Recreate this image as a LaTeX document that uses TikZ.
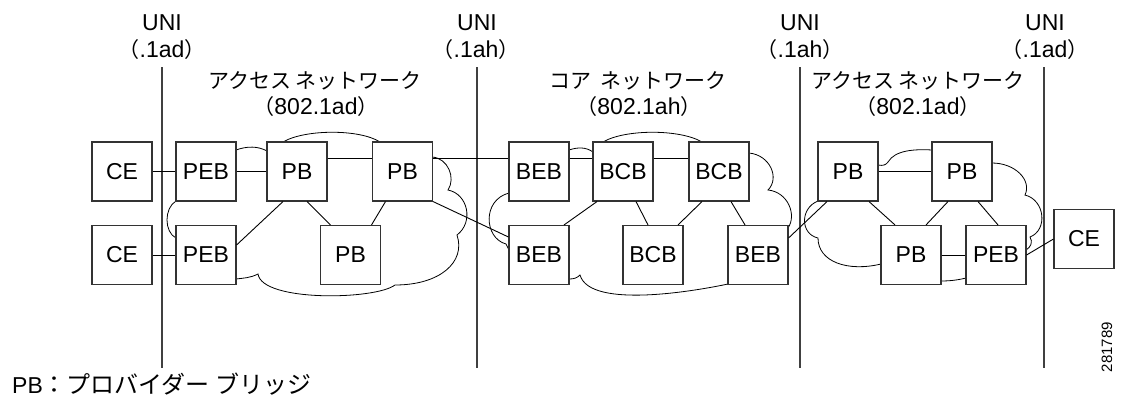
\documentclass[tikz,border=0pt]{standalone}
\usepackage{fontspec}
\setmainfont{Liberation Sans}
\newfontfamily\jp{Noto Sans CJK JP}
\newcommand{\jpt}{\jp\fontsize{21}{25}\selectfont}
\newcommand{\jpf}{\jp\fontsize{24}{28}\selectfont}
\begin{document}
\begin{tikzpicture}[x=1pt,y=-1pt,
  box/.style={draw=black!80, line width=1.1pt, fill=white, minimum width=60pt, minimum height=59pt, inner sep=0pt, font=\fontsize{23}{27}\selectfont},
  link/.style={line width=0.9pt},
  cloudline/.style={line width=0.8pt},
  uni/.style={draw=black!75, line width=1.1pt},
  lbl/.style={font=\fontsize{23}{27}\selectfont, inner sep=0pt, anchor=base},
]
\useasboundingbox (0,0) rectangle (1121,397);

% clouds
\draw[cloudline] (236,150) .. controls (247,146) and (258,146) .. (267,151)
 -- (283,142) .. controls (305,129) and (360,129) .. (380,142)
 -- (432,157) .. controls (448,158) and (456,178) .. (448,190)
 .. controls (468,194) and (474,222) .. (457,235)
 .. controls (466,262) and (440,285) .. (395,285)
 .. controls (375,300) and (262,302) .. (258,274)
 .. controls (250,278) and (244,278) .. (236,279)
 -- (176,238) .. controls (164,232) and (164,208) .. (176,201)
 -- cycle;
\draw[cloudline] (569,150) .. controls (578,147) and (586,147) .. (593,152)
 -- (603,142) .. controls (625,129) and (680,129) .. (702,142)
 -- (749,153) .. controls (770,155) and (780,178) .. (768,190)
 .. controls (788,192) and (797,215) .. (788,228)
 -- (728,284) .. controls (700,290) and (590,310) .. (580,275)
 .. controls (577,278) and (574,279) .. (569,279)
 -- (509,250) -- (506,244) .. controls (484,238) and (482,200) .. (509,193)
 -- cycle;
\draw[cloudline] (878,165) .. controls (883,166) and (886,165) .. (888,162)
 .. controls (895,150) and (915,149) .. (932,150)
 -- (992,163) .. controls (1015,163) and (1032,180) .. (1025,195)
 .. controls (1045,200) and (1048,230) .. (1030,237)
 .. controls (1033,242) and (1031,247) .. (1026,250)
 -- (966,278) .. controls (958,280) and (950,281) .. (941,281)
 -- (881,264) .. controls (848,272) and (818,262) .. (818,238)
 .. controls (800,234) and (800,208) .. (818,201)
 -- cycle;

% UNI lines
\coordinate (u1t) at (162,67); \coordinate (u1b) at (162,368);
\coordinate (u2t) at (477,67); \coordinate (u2b) at (477,368);
\coordinate (u3t) at (800,67); \coordinate (u3b) at (800,368);
\coordinate (u4t) at (1044,67); \coordinate (u4b) at (1044,368);
\draw[uni] (u1t) -- (u1b);
\draw[uni] (u2t) -- (u2b);
\draw[uni] (u3t) -- (u3b);
\draw[uni] (u4t) -- (u4b);

% boxes
\node[box] (CE1) at (122,171.5) {CE};
\node[box] (PEB1) at (206,171.5) {PEB};
\node[box] (PB1) at (297,171.5) {PB};
\node[box] (PB2) at (402.5,171.5) {PB};
\node[box] (BEB1) at (539,171.5) {BEB};
\node[box] (BCB1) at (623,171.5) {BCB};
\node[box] (BCB2) at (719,171.5) {BCB};
\node[box] (PB3) at (848,171.5) {PB};
\node[box] (PB4) at (962,171.5) {PB};
\node[box] (CE2) at (122,255) {CE};
\node[box] (PEB2) at (206,255) {PEB};
\node[box] (PB5) at (350.5,255) {PB};
\node[box] (BEB2) at (539,255) {BEB};
\node[box] (BCB3) at (653,255) {BCB};
\node[box] (BEB3) at (758,255) {BEB};
\node[box] (PB6) at (911,255) {PB};
\node[box] (PEB3) at (996,255) {PEB};
\node[box] (CE3) at (1084,239) {CE};

% links
\draw[link] (CE1) -- (PEB1);
\draw[link] (PEB1) -- (PB1);
\draw[link] ([yshift=13.5pt]PB1.east) -- ([yshift=13.5pt]PB2.west);
\draw[link] ([yshift=13.5pt]PB2.east) -- ([yshift=13.5pt]BEB1.west);
\draw[link] ([yshift=13.5pt]BEB1.east) -- ([yshift=13.5pt]BCB1.west);
\draw[link] ([yshift=13.5pt]BCB1.east) -- ([yshift=13.5pt]BCB2.west);
\draw[link] (PB3) -- (PB4);
\draw[link] (CE2) -- (PEB2);
\draw[link] ([yshift=10pt]PEB2.east) -- ([xshift=-14pt]PB1.south);
\draw[link] ([xshift=10pt]PB1.south) -- ([xshift=-20pt]PB5.north);
\draw[link] ([xshift=-17pt]PB2.south) -- ([xshift=21pt]PB5.north);
\draw[link] (PB2.south east) -- ([yshift=18pt]BEB2.west);
\draw[link] ([xshift=25pt]BEB2.north) -- ([xshift=-26pt]BCB1.south);
\draw[link] ([xshift=13pt]BCB1.south) -- ([xshift=-5pt]BCB3.north);
\draw[link] ([xshift=25pt]BCB3.north) -- ([xshift=-17pt]BCB2.south);
\draw[link] ([xshift=12pt]BCB2.south) -- ([xshift=-13pt]BEB3.north);
\draw[link] ([yshift=17pt]BEB3.east) -- ([xshift=-21pt]PB3.south);
\draw[link] ([xshift=21pt]PB3.south) -- ([xshift=-16pt]PB6.north);
\draw[link] ([xshift=15pt]PB6.north) -- ([xshift=-14pt]PB4.south);
\draw[link] ([xshift=16pt]PB4.south) -- ([xshift=2pt]PEB3.north);
\draw[link] (PB6) -- (PEB3);
\draw[link] (PEB3.east) -- (CE3.west);

% labels
\node[lbl] (uni1) at (162,30) {UNI};
\node[lbl] (std1) at (162,57) {{\jpt （}.1ad{\jpt ）}};
\node[lbl] (uni2) at (477,30) {UNI};
\node[lbl] (std2) at (476,57) {{\jpt （}.1ah{\jpt ）}};
\node[lbl] (uni3) at (800,30) {UNI};
\node[lbl] (std3) at (800,57) {{\jpt （}.1ah{\jpt ）}};
\node[lbl] (uni4) at (1045,30) {UNI};
\node[lbl] (std4) at (1045,57) {{\jpt （}.1ad{\jpt ）}};

\node[lbl] (t1) at (315,88) {{\jpt アクセス ネットワーク}};
\node[lbl] (t1b) at (316,114) {{\jpt （}802.1ad{\jpt ）}};
\node[lbl] (t2) at (638,88) {{\jpt コア\hspace{0.45em}ネットワーク}};
\node[lbl] (t2b) at (639,114) {{\jpt （}802.1ah{\jpt ）}};
\node[lbl] (t3) at (918,88) {{\jpt アクセス ネットワーク}};
\node[lbl] (t3b) at (918,114) {{\jpt （}802.1ad{\jpt ）}};

\node[lbl, anchor=base west] (foot) at (12,393) {PB{\jpf ：プロバイダー ブリッジ}};
\node[font=\fontsize{15}{18}\selectfont, rotate=90, inner sep=0pt] (num) at (1107,347) {281789};
\end{tikzpicture}
\end{document}
